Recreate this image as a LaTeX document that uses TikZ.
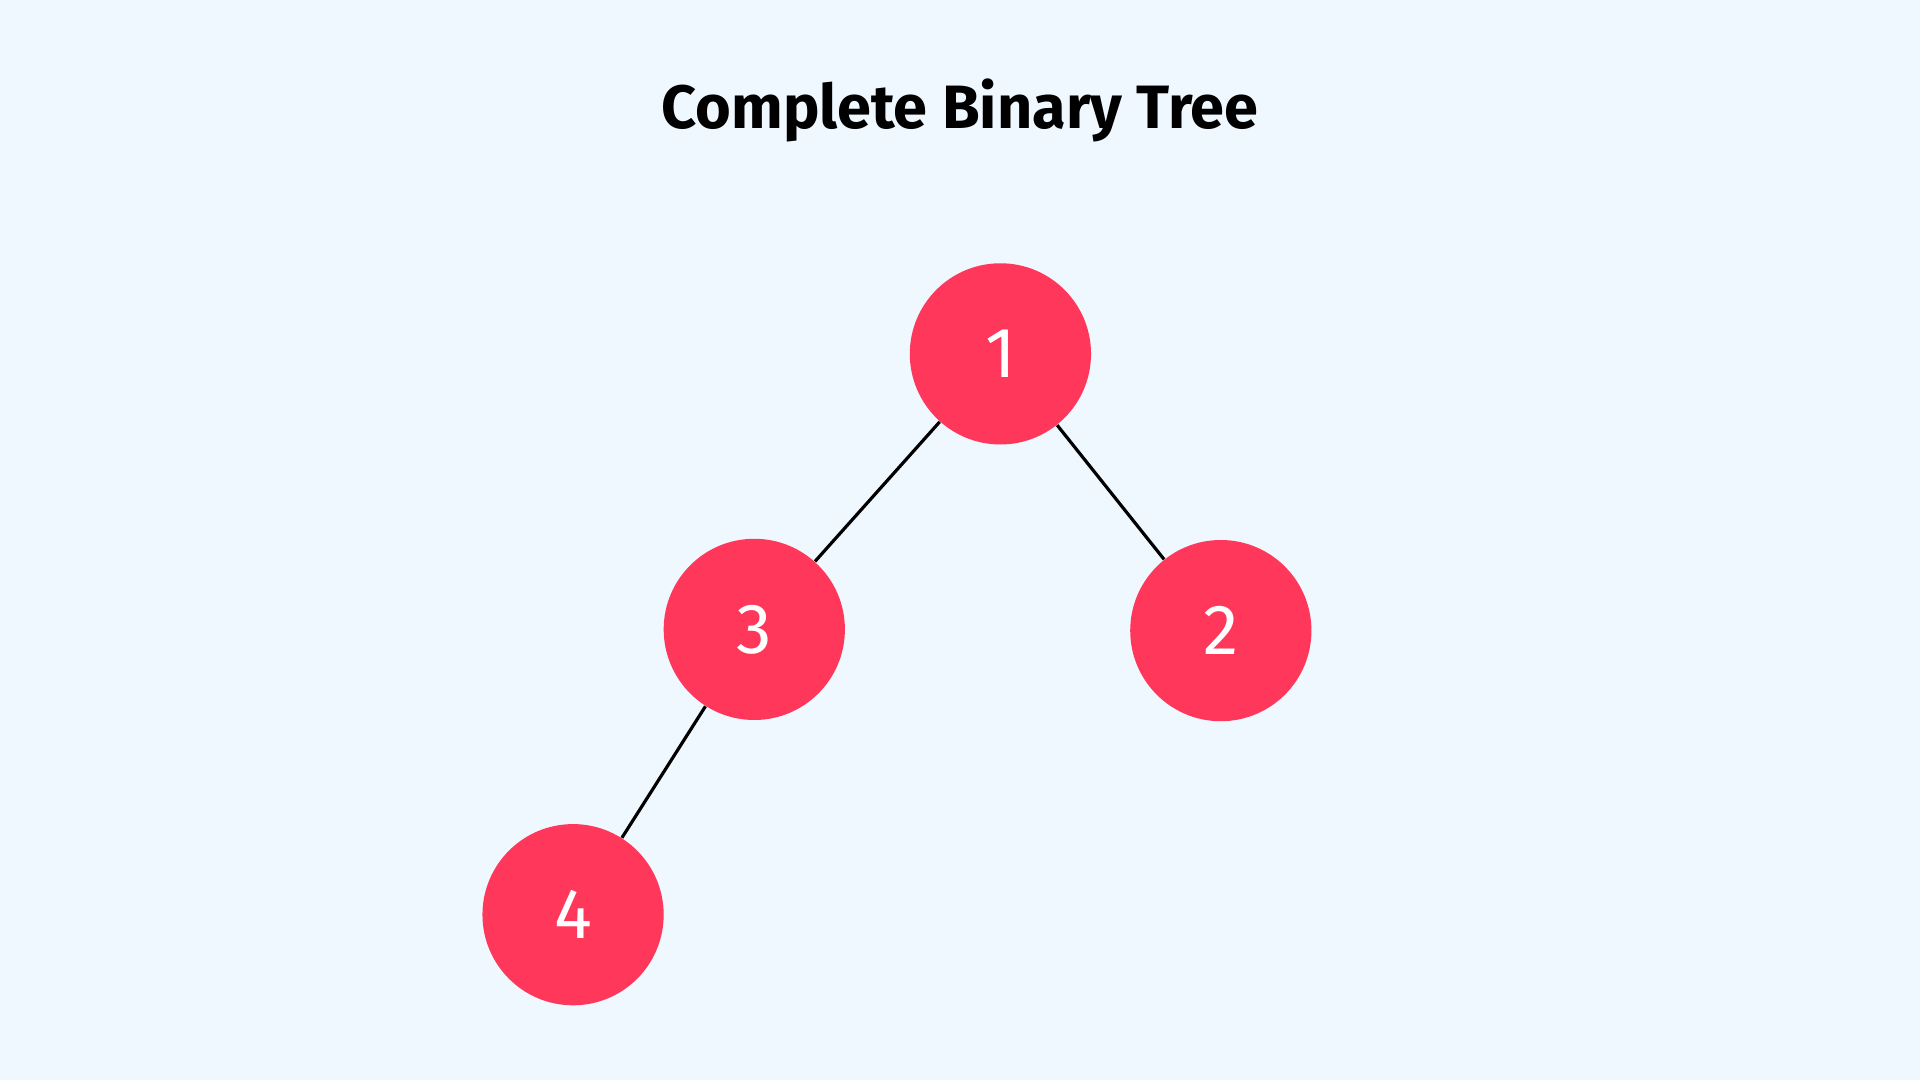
\documentclass[tikz,border=0pt]{standalone}
\usepackage{fontspec}
\setmainfont{Fira Sans}
\begin{document}
\begin{tikzpicture}[x=0.5pt,y=-0.5pt,
  tn/.style={circle,fill=nodered,draw=none,minimum size=74pt,inner sep=0pt,text=white,font=\fontsize{29}{34}\selectfont},
  edge/.style={line width=1.3pt,black}]
\definecolor{nodered}{HTML}{FF385B}
\definecolor{bg}{HTML}{EFF7FF}
\fill[bg] (0,0) rectangle (1568,882);
\useasboundingbox (0,0) rectangle (1568,882);
\node[font=\fontsize{25}{30}\selectfont\bfseries] (title) at (784,90) {Complete Binary Tree};
\node[tn] (n1) at (817,289) {1};
\node[tn] (n3) at (616,514) {3};
\node[tn] (n2) at (997,515) {2};
\node[tn] (n4) at (468,747) {4};
\begin{scope}[on background layer/.try]
\end{scope}
\draw[edge] (n1) -- (n3);
\draw[edge] (n1) -- (n2);
\draw[edge] (n3) -- (n4);
\end{tikzpicture}
\end{document}
